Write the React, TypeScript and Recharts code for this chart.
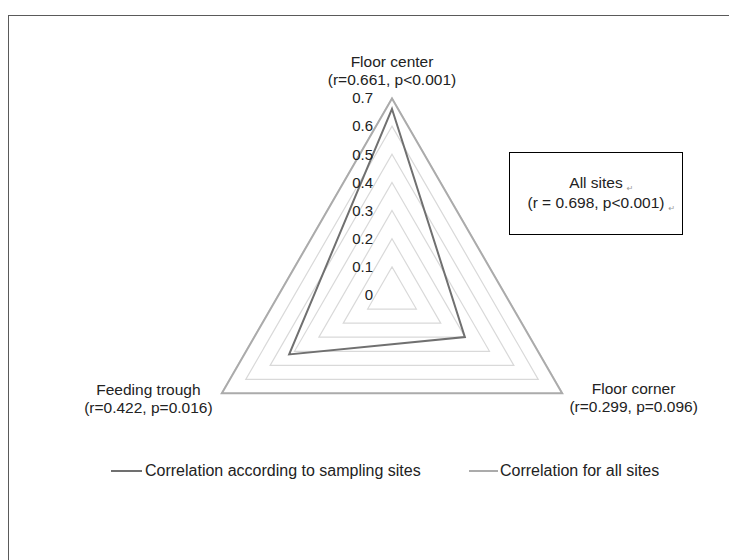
import React from "react";
import { RadarChart, Radar, PolarGrid, PolarAngleAxis, PolarRadiusAxis } from "recharts";

const sites = ["Floor center", "Floor corner", "Feeding trough"];
const siteStats = ["(r=0.661, p<0.001)", "(r=0.299, p=0.096)", "(r=0.422, p=0.016)"];
const bySite = [0.661, 0.299, 0.422];
const allSites = [0.698, 0.698, 0.698];
const radiusDomain = [0, 0.7];
const seriesNames = ["Correlation according to sampling sites", "Correlation for all sites"];
const boxLines = ["All sites", "(r = 0.698, p<0.001)"];

const data = sites.map((site, i) => ({ site, bySite: bySite[i], allSites: allSites[i] }));

const W = 720;
const H = 544;
const CX = 383;
const CY = 279;
const R = 197;
const FONT = '"Liberation Sans", Arial, sans-serif';
const TEXT = "#222";
const DARK = "#707070";
const LIGHT = "#ababab";

const AngleTick = (props: any) => {
  const i = sites.indexOf(props.payload.value);
  const a = ((90 - i * 120) * Math.PI) / 180;
  const vx = CX + R * Math.cos(a);
  const vy = CY - R * Math.sin(a);
  let x = vx;
  let y = vy - 36;
  if (i === 1) {
    x = vx + 71;
    y = vy - 4.5;
  } else if (i === 2) {
    x = vx - 73;
    y = vy - 4;
  }
  return (
    <text x={x} y={y} textAnchor="middle" fontSize={15.5} fill={TEXT} fontFamily={FONT}>
      <tspan x={x} dy="0.35em">{props.payload.value}</tspan>
      <tspan x={x} dy={18}>{siteStats[i]}</tspan>
    </text>
  );
};

const RadiusTick = (props: any) => {
  const { x, y, payload } = props;
  return (
    <text x={x - 19} y={y} dy="0.35em" textAnchor="end" fontSize={15} fill={TEXT} fontFamily={FONT}>
      {String(Math.round(payload.value * 10) / 10)}
    </text>
  );
};

// legend drawn as plain html so it does not shrink the polar area
const SeriesLegend = () => (
  <div style={{ position: "absolute", left: 0, top: 443, width: W, height: 24, fontFamily: FONT, fontSize: 16, color: TEXT }}>
    <div style={{ position: "absolute", left: 102, top: 11, width: 31, height: 2, background: DARK }} />
    <div style={{ position: "absolute", left: 136, top: 0, lineHeight: "24px", whiteSpace: "nowrap" }}>{seriesNames[0]}</div>
    <div style={{ position: "absolute", left: 460, top: 11, width: 29, height: 2, background: LIGHT }} />
    <div style={{ position: "absolute", left: 491, top: 0, lineHeight: "24px", whiteSpace: "nowrap" }}>{seriesNames[1]}</div>
  </div>
);

const mark = (
  <span style={{ position: "absolute", left: "100%", marginLeft: 4, top: 5, fontSize: 8, color: "#999", fontFamily: "DejaVu Sans" }}>↵</span>
);

export default function App() {
  return (
    <div
      style={{
        position: "fixed",
        left: 8,
        top: 15,
        width: 721,
        height: 545,
        boxSizing: "border-box",
        borderTop: "1px solid #5a5a5a",
        borderLeft: "1px solid #5a5a5a",
        background: "#fff",
      }}
    >
      <RadarChart
        width={W}
        height={H}
        data={data}
        cx={CX}
        cy={CY}
        outerRadius={R}
        innerRadius={0}
        startAngle={90}
        endAngle={-270}
        margin={{ top: 0, right: 0, bottom: 0, left: 0 }}
      >
        <PolarGrid gridType="polygon" radialLines={false} stroke="#d9d9d9" strokeWidth={1.2} />
        <PolarAngleAxis dataKey="site" tick={AngleTick} tickLine={false} axisLine={false} />
        <PolarRadiusAxis
          angle={90}
          type="number"
          scale="linear"
          domain={radiusDomain}
          allowDecimals
          allowDataOverflow
          tickCount={8}
          tick={RadiusTick}
          axisLine={false}
          tickLine={false}
        />
        <Radar
          name={seriesNames[1]}
          dataKey="allSites"
          stroke={LIGHT}
          strokeWidth={2}
          fill="none"
          fillOpacity={0}
          dot={false}
          isAnimationActive={false}
        />
        <Radar
          name={seriesNames[0]}
          dataKey="bySite"
          stroke={DARK}
          strokeWidth={2}
          fill="none"
          fillOpacity={0}
          dot={false}
          isAnimationActive={false}
        />
      </RadarChart>
      <SeriesLegend />
      <div
        style={{
          position: "absolute",
          left: 500,
          top: 136,
          width: 174,
          height: 83,
          boxSizing: "border-box",
          border: "1px solid #000",
          fontFamily: FONT,
          fontSize: 15.5,
          color: TEXT,
        }}
      >
        <div style={{ position: "absolute", left: 0, right: 0, top: 20, lineHeight: "20px", textAlign: "center" }}>
          <span style={{ position: "relative" }}>
            {boxLines[0]}
            {mark}
          </span>
        </div>
        <div style={{ position: "absolute", left: 0, right: 0, top: 40, lineHeight: "20px", textAlign: "center" }}>
          <span style={{ position: "relative" }}>
            {boxLines[1]}
            {mark}
          </span>
        </div>
      </div>
    </div>
  );
}
